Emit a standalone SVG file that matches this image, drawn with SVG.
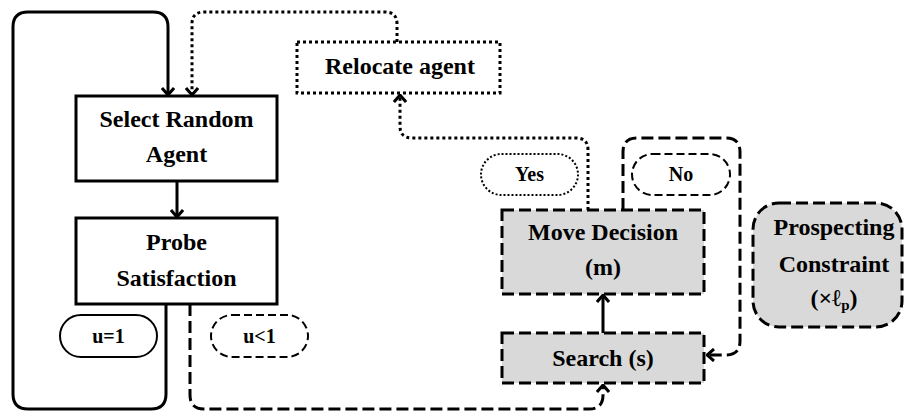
<svg xmlns="http://www.w3.org/2000/svg" width="904" height="413" viewBox="0 0 904 413">
  <style>
    text { font-family: "Liberation Serif", "Times New Roman", serif; font-weight: bold; fill: #000; text-anchor: middle; }
    .lbl { font-size: 24px; }
    .tag { font-size: 20px; }
    .box { fill: #fff; stroke: #000; stroke-width: 3; }
    .gray { fill: #d9d9d9; stroke: #000; stroke-width: 3; stroke-dasharray: 12 5; }
    .dot { fill: #fff; stroke: #000; stroke-width: 3; stroke-dasharray: 3 3; }
    .pill { fill: #fff; stroke: #000; stroke-width: 2; }
    .pill-dash { fill: #fff; stroke: #000; stroke-width: 2; stroke-dasharray: 8 4; }
    .pill-dot { fill: #fff; stroke: #000; stroke-width: 2; stroke-dasharray: 2 2; }
    .edge { fill: none; stroke: #000; stroke-width: 3; }
    .edge-dash { fill: none; stroke: #000; stroke-width: 3; stroke-dasharray: 12 5; }
    .edge-dot { fill: none; stroke: #000; stroke-width: 3; stroke-dasharray: 3 3; }
  </style>
  <defs>
    <marker id="head" viewBox="0 0 10 14" refX="8.5" refY="7" markerWidth="10" markerHeight="14" markerUnits="userSpaceOnUse" orient="auto">
      <path d="M1.5,1 L8.5,7 L1.5,13" fill="none" stroke="#000" stroke-width="3" stroke-linejoin="miter"/>
    </marker>
  </defs>

  <g id="connectors">
    <!-- satisfied: back to agent selection -->
    <path class="edge" d="M166,304 V394 Q166,409 151,409 H28 Q13,409 13,394 V27 Q13,12 28,12 H153 Q168,12 168,27 V95" marker-end="url(#head)"/>
    <path class="edge" d="M177,182 V217" marker-end="url(#head)"/>
    <!-- relocated agent returns to selection -->
    <path class="edge-dot" d="M397,42 V24 Q397,12 385,12 H204 Q192,12 192,24 V95" marker-end="url(#head)"/>
    <!-- yes: relocate -->
    <path class="edge-dot" d="M588,210 V150 Q588,138 576,138 H412 Q400,138 400,126 V95" marker-end="url(#head)"/>
    <!-- no: search again -->
    <path class="edge-dash" d="M623,210 V152 Q623,138 637,138 H726 Q740,138 740,152 V341 Q740,355 726,355 H707" marker-end="url(#head)"/>
    <path class="edge" d="M603,333 V295" marker-end="url(#head)"/>
    <!-- unsatisfied: search -->
    <path class="edge-dash" d="M190,304 V395 Q190,409 204,409 H589 Q603,409 603,395 V385" marker-end="url(#head)"/>
  </g>

  <g id="select-agent">
    <rect class="box" x="76" y="96" width="201" height="85"/>
    <text class="lbl" x="176.5" y="127">Select Random</text>
    <text class="lbl" x="176.5" y="162">Agent</text>
  </g>

  <g id="probe">
    <rect class="box" x="76" y="218" width="201" height="86"/>
    <text class="lbl" x="176.5" y="250">Probe</text>
    <text class="lbl" x="176.5" y="286">Satisfaction</text>
  </g>

  <g id="relocate">
    <rect class="dot" x="297" y="42" width="203" height="51"/>
    <text class="lbl" x="400" y="74">Relocate agent</text>
  </g>

  <g id="move-decision">
    <rect class="gray" x="502" y="210" width="202" height="84"/>
    <text class="lbl" x="603" y="240">Move Decision</text>
    <text class="lbl" x="603" y="275">(m)</text>
  </g>

  <g id="search">
    <rect class="gray" x="502" y="333" width="202" height="50"/>
    <text class="lbl" x="603" y="366">Search (s)</text>
  </g>

  <g id="prospecting">
    <rect class="gray" x="753" y="203" width="149" height="124" rx="26"/>
    <text class="lbl" x="834" y="235">Prospecting</text>
    <text class="lbl" x="834" y="272">Constraint</text>
    <text class="lbl" x="834" y="306">(×ℓ<tspan font-size="15" dy="4">p</tspan><tspan dy="-4">)</tspan></text>
  </g>

  <g id="yes">
    <rect class="pill-dot" x="481" y="154" width="97" height="41" rx="20.5"/>
    <text class="tag" x="529.5" y="181">Yes</text>
  </g>

  <g id="no">
    <rect class="pill-dash" x="632" y="154" width="98" height="41" rx="20.5"/>
    <text class="tag" x="681" y="181">No</text>
  </g>

  <g id="u-eq-1">
    <rect class="pill" x="60" y="315" width="97" height="42" rx="21"/>
    <text class="tag" x="108.5" y="343">u=1</text>
  </g>

  <g id="u-lt-1">
    <rect class="pill-dash" x="211" y="315" width="97" height="42" rx="21"/>
    <text class="tag" x="259.5" y="343">u&lt;1</text>
  </g>
</svg>
